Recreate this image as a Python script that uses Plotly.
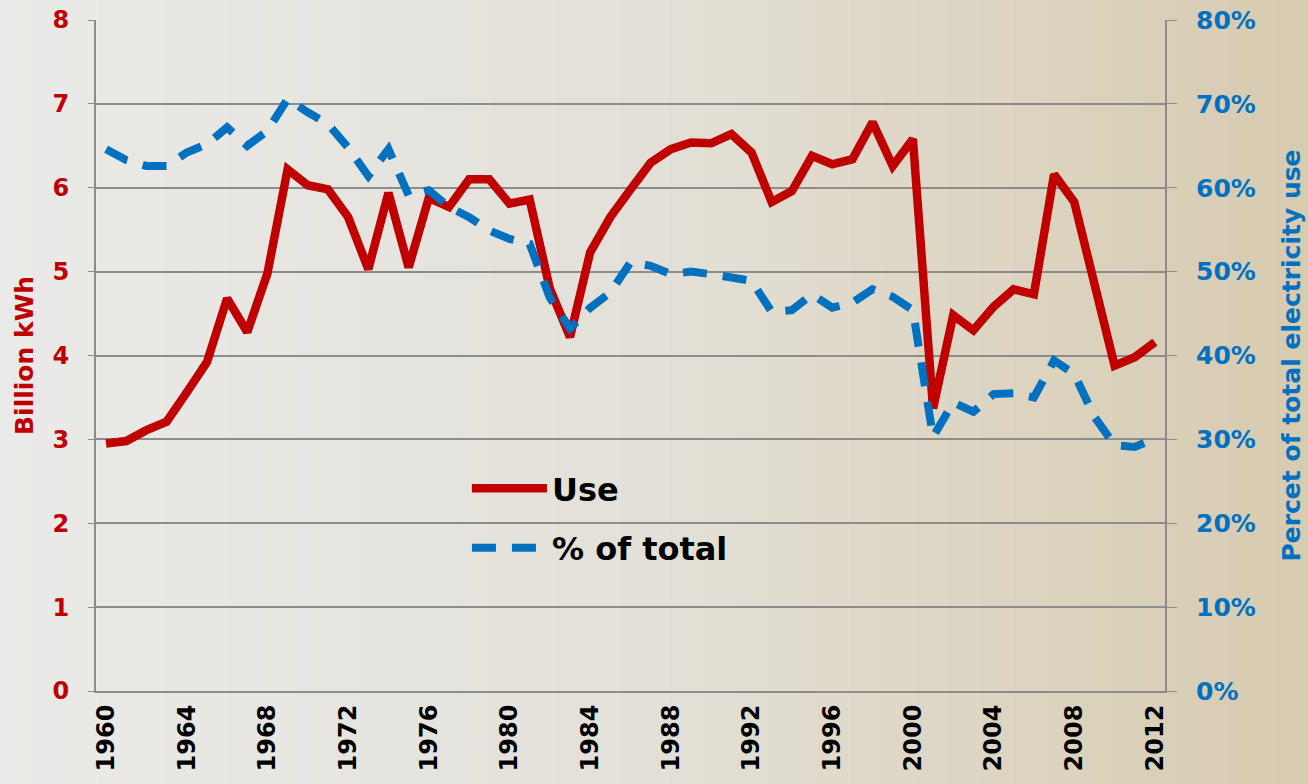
import plotly.graph_objects as go

# years and values
years = list(range(1960, 2013))
use_bkwh = [2.95, 2.98, 3.11, 3.21, 3.56, 3.92, 4.68, 4.28, 4.98, 6.22,
            6.03, 5.98, 5.65, 5.03, 5.94, 5.05, 5.88, 5.77, 6.10, 6.10,
            5.81, 5.86, 4.80, 4.22, 5.23, 5.65, 5.98, 6.30, 6.46, 6.54,
            6.53, 6.64, 6.42, 5.83, 5.96, 6.38, 6.28, 6.34, 6.78, 6.26,
            6.58, 3.37, 4.48, 4.30, 4.58, 4.79, 4.73, 6.16, 5.83, 4.85,
            3.88, 3.98, 4.16]
pct_total = [64.6, 63.3, 62.6, 62.6, 64.2, 65.2, 67.2, 65.0, 66.8, 70.6,
             69.0, 67.6, 64.8, 61.4, 64.6, 59.1, 59.7, 57.7, 56.5, 54.9,
             53.9, 53.3, 46.9, 43.2, 45.7, 47.5, 51.1, 50.7, 49.7, 50.0,
             49.7, 49.4, 48.9, 45.2, 45.4, 47.3, 45.7, 46.3, 47.9, 47.0,
             45.4, 30.3, 34.4, 33.3, 35.4, 35.5, 35.0, 39.4, 37.8, 32.7,
             29.3, 29.1, 30.1]
year_ticks = list(range(1960, 2013, 4))
left_ticks = [0, 1, 2, 3, 4, 5, 6, 7, 8]
right_ticks = [0, 10, 20, 30, 40, 50, 60, 70, 80]
right_labels = ["0%", "10%", "20%", "30%", "40%", "50%", "60%", "70%", "80%"]

RED = "#C00000"
BLUE = "#0070C0"
GRID = "#8C8C8C"
FONT = "DejaVu Sans"

fig = go.Figure()
fig.add_trace(go.Scatter(x=years, y=use_bkwh, name="Use", mode="lines",
                         legendgroup="a",
                         line=dict(color=RED, width=8.5)))
fig.add_trace(go.Scatter(x=years, y=pct_total, name="% of total", mode="lines",
                         yaxis="y2", legendgroup="b",
                         line=dict(color=BLUE, width=8, dash="24px,16px")))

# background: left-to-right gradient, grey to tan
W, L, PW = 1308, 96, 1069
stops = [(0.0, (234, 234, 232)), (0.5, (227, 224, 216)), (1.0, (215, 203, 175))]


def grad(t):
    for (t0, c0), (t1, c1) in zip(stops[:-1], stops[1:]):
        if t <= t1:
            f = (t - t0) / (t1 - t0)
            return "rgb(%d,%d,%d)" % tuple(round(a + (b - a) * f) for a, b in zip(c0, c1))
    return "rgb(%d,%d,%d)" % stops[-1][1]


n = 80
shapes = []
for i in range(n):
    px0 = W * i / n
    px1 = W * (i + 1) / n + 1
    shapes.append(dict(type="rect", xref="paper", yref="paper",
                       x0=(px0 - L) / PW, x1=(px1 - L) / PW, y0=-0.2, y1=1.1,
                       fillcolor=grad((i + 0.5) / n), line_width=0, layer="below"))

fig.update_layout(
    width=1308, height=784,
    margin=dict(l=96, r=143, t=20, b=93),
    paper_bgcolor="rgb(234,234,232)",
    plot_bgcolor="rgba(0,0,0,0)",
    shapes=shapes,
    font=dict(family=FONT, weight="bold", color="black"),
    showlegend=True,
    legend=dict(x=0.347, y=0.343, xanchor="left", yanchor="top",
                bgcolor="rgba(0,0,0,0)", itemwidth=75, tracegroupgap=15,
                font=dict(family=FONT, size=32, weight="bold", color="black")),
    xaxis=dict(range=[1959.5, 2012.5], tickvals=year_ticks, tickangle=-90,
               showgrid=False, zeroline=False, automargin=False,
               showline=True, linecolor=GRID, linewidth=2, mirror=False,
               ticks="", ticklabelstandoff=2,
               tickfont=dict(family=FONT, size=24, weight="bold", color="black")),
    yaxis=dict(range=[0, 8], tickvals=left_ticks, automargin=False,
               showgrid=True, gridcolor=GRID, gridwidth=2, zeroline=False,
               showline=True, linecolor=GRID, linewidth=2,
               ticks="outside", ticklen=6, tickcolor=GRID, ticklabelstandoff=14,
               tickfont=dict(family=FONT, size=24, weight="bold", color=RED),
               title=dict(text="Billion kWh", standoff=12,
                          font=dict(family=FONT, size=25, weight="bold", color=RED))),
    yaxis2=dict(range=[0, 80], tickvals=right_ticks, ticktext=right_labels,
                overlaying="y", side="right", showgrid=False, zeroline=False,
                automargin=False,
                showline=True, linecolor=GRID, linewidth=2,
                ticks="outside", ticklen=10, tickcolor=GRID, ticklabelstandoff=14,
                tickfont=dict(family=FONT, size=25, weight="bold", color=BLUE),
                title=dict(text="Percet of total electricity use", standoff=28,
                           font=dict(family=FONT, size=25, weight="bold", color=BLUE))),
)

fig.write_html("out.html", config={"displayModeBar": False},
               post_script="document.body.style.margin='0';")
